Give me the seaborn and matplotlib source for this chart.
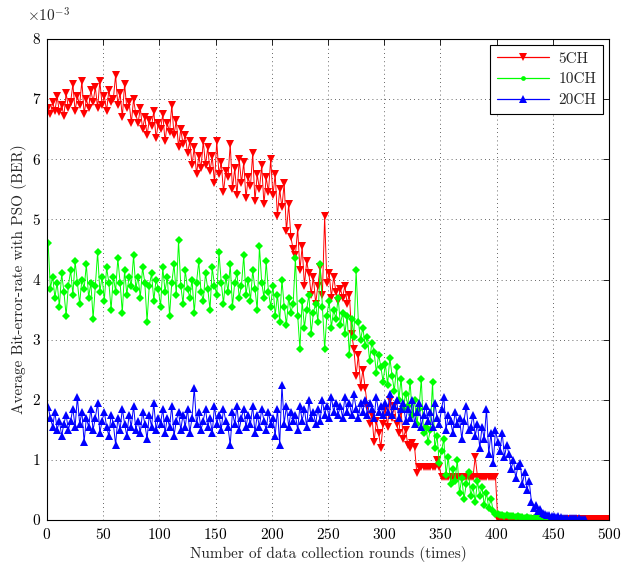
import numpy as np
import pandas as pd
import matplotlib
matplotlib.use("Agg")
import matplotlib.pyplot as plt
from matplotlib.ticker import FuncFormatter
from matplotlib.lines import Line2D
import seaborn as sns

# Average BER (in units of 1e-3) sampled every second collection round
ber_5ch = [
    6.85, 6.75, 6.95, 6.80, 7.05, 6.78, 6.90, 6.72, 7.10, 6.85,
    6.95, 7.25, 6.80, 7.05, 6.90, 7.30, 6.75, 7.00, 6.85, 7.15,
    6.95, 7.20, 6.85, 7.30, 6.90, 7.05, 6.80, 7.15, 6.95, 7.00,
    7.40, 6.90, 7.10, 6.70, 7.25, 6.85, 6.95, 6.60, 7.00, 6.75,
    6.60, 6.85, 6.50, 6.70, 6.40, 6.65, 6.55, 6.80, 6.35, 6.60,
    6.50, 6.75, 6.30, 6.60, 6.45, 6.90, 6.40, 6.65, 6.20, 6.50,
    6.25, 6.40, 6.10, 6.30, 5.90, 6.20, 5.75, 6.05, 5.85, 6.30,
    5.90, 6.20, 5.80, 6.05, 5.60, 6.30, 5.75, 5.95, 5.45, 5.80,
    5.70, 6.25, 5.50, 5.85, 5.40, 6.00, 5.60, 5.95, 5.35, 5.70,
    5.55, 6.10, 5.30, 5.75, 5.50, 5.90, 5.25, 5.70, 5.45, 6.00,
    5.40, 5.75, 5.05, 5.50, 5.20, 5.60, 4.80, 5.25, 4.70, 4.50,
    4.40, 4.85, 4.15, 4.55, 3.90, 4.30, 4.10, 3.75, 4.05, 3.60,
    3.90, 4.20, 3.75, 5.05, 3.95, 4.10, 3.70, 4.05, 3.80, 3.65,
    3.85, 3.70, 3.90, 3.60, 3.75, 3.10, 2.85, 2.40, 2.75, 2.20,
    2.50, 2.20, 1.90, 1.60, 1.75, 1.30, 1.65, 1.45, 1.20, 1.60,
    1.85, 1.55, 2.00, 1.70, 1.90, 1.60, 1.45, 1.80, 1.35, 1.50,
    1.25, 1.20, 1.28, 1.22, 0.78, 0.88, 0.88, 0.88, 0.88, 0.88,
    0.88, 0.88, 0.88, 1.00, 0.88, 0.72, 0.72, 0.72, 0.72, 0.72,
    0.72, 0.72, 0.72, 0.72, 0.72, 0.72, 0.72, 0.72, 0.72, 0.72,
    1.05, 0.72, 0.72, 0.72, 0.72, 0.72, 0.72, 0.72, 0.72, 0.72,
    0.01, 0.01, 0.01, 0.01, 0.01, 0.01, 0.01, 0.01, 0.01, 0.01,
    0.01, 0.01, 0.01, 0.01, 0.01, 0.01, 0.01, 0.01, 0.01, 0.01,
    0.01, 0.01, 0.01, 0.01, 0.01, 0.01, 0.01, 0.01, 0.01, 0.01,
    0.01, 0.01, 0.01, 0.01, 0.01, 0.01, 0.01, 0.01, 0.01, 0.01,
    0.01, 0.01, 0.01, 0.01, 0.01, 0.01, 0.01, 0.01, 0.01, 0.01,
]

ber_10ch = [
    4.60, 3.85, 4.05, 3.70, 3.95, 3.55, 4.10, 3.80, 3.40, 3.90,
    4.15, 3.75, 4.30, 3.95, 3.60, 4.00, 3.85, 4.25, 3.70, 3.95,
    3.35, 3.90, 4.45, 3.80, 4.05, 3.65, 4.20, 3.95, 3.50, 4.05,
    3.80, 4.35, 3.95, 3.45, 4.15, 3.75, 4.05, 3.90, 4.40, 3.85,
    4.05, 3.70, 4.20, 3.95, 3.30, 3.90, 4.10, 3.65, 4.00, 3.85,
    3.55, 4.20, 3.80, 4.05, 3.40, 3.95, 4.25, 3.75, 4.65, 3.90,
    3.60, 4.15, 3.85, 3.70, 4.00, 3.45, 3.95, 4.30, 3.80, 3.65,
    4.10, 3.85, 3.50, 4.20, 3.90, 3.75, 4.45, 3.95, 3.60, 4.05,
    3.80, 4.25, 3.55, 3.95, 4.10, 3.70, 3.90, 4.40, 3.75, 4.00,
    3.65, 4.15, 3.85, 3.50, 4.55, 3.95, 3.70, 4.30, 3.80, 3.55,
    3.90, 3.40, 3.75, 3.30, 4.00, 3.55, 3.25, 3.70, 3.45, 3.60,
    4.35, 3.40, 2.85, 3.65, 3.20, 3.50, 3.75, 3.10, 3.45, 3.60,
    3.30, 4.25, 3.55, 2.85, 3.40, 3.65, 3.20, 3.50, 3.35, 3.70,
    3.25, 3.45, 3.10, 3.40, 2.75, 3.35, 3.05, 4.15, 3.30, 3.00,
    3.20, 2.90, 3.05, 2.65, 2.95, 2.80, 2.45, 2.75, 2.55, 2.30,
    2.60, 2.25, 2.70, 2.40, 2.15, 2.55, 2.00, 2.35, 1.85, 2.10,
    1.90, 2.30, 1.75, 2.00, 1.60, 1.85, 2.35, 1.45, 1.55, 1.30,
    1.50, 2.30, 1.20, 1.40, 0.95, 1.15, 1.35, 0.75, 1.05, 0.60,
    0.85, 0.65, 1.00, 0.45, 0.70, 0.35, 0.60, 0.80, 0.40, 0.55,
    0.30, 0.65, 0.40, 0.55, 0.25, 0.45, 0.20, 0.35, 0.15, 0.10,
    0.10, 0.08, 0.09, 0.07, 0.08, 0.06, 0.07, 0.06, 0.05, 0.06,
    0.05, 0.05, 0.04, 0.05, 0.04, 0.04, 0.03, 0.04, 0.03, 0.03,
    0.03, 0.03, 0.02, 0.03, 0.02, 0.02, 0.02, 0.02, 0.02, 0.01,
]

ber_20ch = [
    1.88, 1.70, 1.55, 1.80, 1.50, 1.65, 1.40, 1.60, 1.75, 1.50,
    1.65, 1.85, 1.55, 2.05, 1.60, 1.80, 1.30, 1.70, 1.55, 1.85,
    1.50, 1.70, 1.95, 1.45, 1.65, 1.80, 1.55, 1.40, 1.75, 1.60,
    1.25, 1.70, 1.50, 1.85, 1.60, 1.40, 1.75, 1.55, 1.90, 1.50,
    1.65, 1.45, 1.80, 1.60, 1.35, 1.75, 1.55, 1.95, 1.50, 1.70,
    1.60, 1.85, 1.45, 1.70, 1.55, 1.90, 1.40, 1.65, 1.80, 1.50,
    1.75, 1.55, 1.85, 1.45, 1.70, 2.20, 1.60, 1.80, 1.50, 1.65,
    1.85, 1.55, 1.70, 1.45, 1.90, 1.60, 1.75, 1.50, 1.85, 1.65,
    1.55, 1.25, 1.80, 1.60, 1.90, 1.50, 1.70, 1.85, 1.55, 1.75,
    1.60, 1.90, 1.45, 1.75, 1.55, 1.85, 1.65, 1.50, 1.80, 1.60,
    1.70, 1.40, 1.85, 1.25, 2.25, 1.60, 1.90, 1.55, 1.80, 1.65,
    1.75, 1.50, 1.90, 1.65, 1.85, 1.55, 2.00, 1.70, 1.80, 1.60,
    1.85, 1.65, 2.00, 1.75, 1.90, 1.70, 2.05, 1.80, 1.95, 1.75,
    1.90, 1.70, 2.05, 1.80, 1.95, 1.75, 2.10, 1.85, 1.70, 1.95,
    1.80, 2.00, 1.75, 1.95, 1.85, 1.70, 2.05, 1.80, 1.90, 1.75,
    1.95, 1.80, 2.10, 1.75, 1.90, 2.00, 1.70, 1.85, 1.95, 1.65,
    1.85, 1.70, 2.00, 1.60, 1.80, 1.95, 1.55, 1.75, 1.90, 1.65,
    1.80, 1.55, 1.95, 1.70, 1.60, 1.85, 2.05, 1.50, 1.75, 1.65,
    1.45, 1.80, 1.60, 1.70, 1.35, 1.65, 1.90, 1.50, 1.55, 1.75,
    1.40, 1.60, 1.20, 1.55, 1.35, 1.85, 1.10, 1.45, 0.95, 1.50,
    1.30, 1.15, 1.45, 1.05, 1.25, 1.10, 0.85, 1.00, 0.70, 0.90,
    0.95, 0.60, 0.80, 0.50, 0.65, 0.30, 0.20, 0.25, 0.15, 0.18,
    0.12, 0.10, 0.08, 0.09, 0.06, 0.07, 0.05, 0.06, 0.05, 0.04,
    0.04, 0.04, 0.03, 0.04, 0.03, 0.03, 0.03, 0.02, 0.02, 0.02,
]

series_names = ["5CH", "10CH", "20CH"]
series_values = [ber_5ch, ber_10ch, ber_20ch]
series_colors = ["#ff0000", "#00ff00", "#0000ff"]
series_markers = ["v", "D", "^"]
series_msize = [5.8, 3.8, 5.8]

x_ticks = [0, 50, 100, 150, 200, 250, 300, 350, 400, 450, 500]
y_ticks = [0, 1, 2, 3, 4, 5, 6, 7, 8]
SCALE = 1e-3

frames = []
for name, vals in zip(series_names, series_values):
    rounds = np.arange(1, 2 * len(vals), 2)
    frames.append(pd.DataFrame({"round": rounds,
                                "ber": np.asarray(vals) * SCALE,
                                "series": name}))
df = pd.concat(frames, ignore_index=True)

sns.set_theme(style="white")
plt.rcParams.update({
    "font.family": ["cmr10", "DejaVu Serif"],
    "mathtext.fontset": "cm",
    "axes.formatter.use_mathtext": True,
    "axes.unicode_minus": True,
    "font.size": 11,
})

fig = plt.figure(figsize=(6.22, 5.62), dpi=100)
ax = fig.add_axes([0.0756, 0.0747, 0.9035, 0.8559])

for name, color, mk, ms in zip(series_names, series_colors, series_markers, series_msize):
    sub = df[df["series"] == name]
    sns.lineplot(data=sub, x="round", y="ber", color=color, marker=mk,
                 markersize=ms, markeredgewidth=0, linewidth=0.7,
                 ax=ax, estimator=None, sort=False, legend=False)

ax.set_xlim(0, 500)
ax.set_ylim(0, 8 * SCALE)
ax.set_xticks(x_ticks)
ax.set_yticks([v * SCALE for v in y_ticks])
ax.yaxis.set_major_formatter(FuncFormatter(lambda v, p: f"{v / SCALE:.0f}"))
ax.text(-0.036, 1.03, r"$\times10^{-3}$", transform=ax.transAxes,
        fontsize=11, ha="left", va="bottom")

ax.grid(True, color="black", linestyle=(0, (1, 4)), linewidth=0.6, alpha=0.8)
for s in ax.spines.values():
    s.set_color("black")
    s.set_linewidth(0.8)
ax.tick_params(direction="in", length=4, width=0.6, top=True, right=True,
               labelsize=11, colors="black", pad=5)

ax.set_xlabel("Number of data collection rounds (times)", fontsize=11, labelpad=3)
ax.set_ylabel("Average Bit-error-rate with PSO (BER)", fontsize=11, labelpad=4)

handles = [Line2D([], [], color=c, marker=m, markersize=ms * 0.9,
                  markeredgewidth=0, linewidth=0.9)
           for c, m, ms in zip(series_colors, ["v", "o", "^"], series_msize)]
leg = ax.legend(handles, series_names, loc="upper right", frameon=True,
                fancybox=False, fontsize=11, handlelength=3.4, borderpad=0.45,
                labelspacing=0.45, borderaxespad=0.4, handletextpad=0.6)
leg.get_frame().set_edgecolor("black")
leg.get_frame().set_linewidth(0.8)
leg.get_frame().set_alpha(1)

fig.savefig("out.png", dpi=100)
